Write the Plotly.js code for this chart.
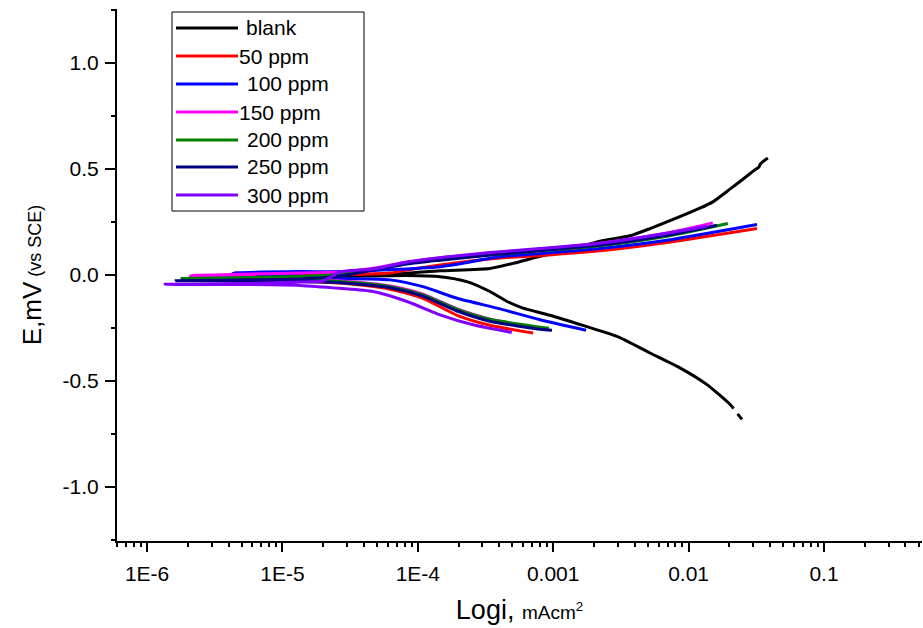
<!DOCTYPE html>
<html>
<head>
<meta charset="utf-8">
<script src="https://cdn.plot.ly/plotly-3.0.1.min.js"></script>
<style>html,body{margin:0;padding:0;background:#fff;}#chart{width:923px;height:628px;}</style>
</head>
<body>
<div id="chart"></div>
<script>
// Series names and colours
var seriesNames = ["blank", "50 ppm", "100 ppm", "150 ppm", "200 ppm", "250 ppm", "300 ppm"];
var seriesColors = ["#000000", "#ff0000", "#0000ff", "#ff00ff", "#008000", "#000080", "#8000ff"];

// blank: cathodic end -> corrosion point -> anodic end (current mA/cm2, potential V)
var blank_i = [2.48e-2, 2.30e-2, null, 2.15e-2, 2.02e-2, 1.36e-2, 8.63e-3, 5.19e-3, 2.96e-3, 1.66e-3, 9.46e-4, 5.98e-4, 4.56e-4, 3.41e-4, 2.30e-4, 1.46e-4, 8.3e-5, 3.0e-5, 1.0e-5, 2.5e-6,
               1.0e-5, 3.0e-5, 7.0e-5, 1.46e-4, 3.41e-4, 5.05e-4, 8.0e-4, 1.12e-3, 2.22e-3, 3.69e-3, 5.19e-3, 1.21e-2, 1.51e-2, 2.02e-2, 2.52e-2, 3.15e-2, 3.30e-2, 3.40e-2, 3.85e-2];
var blank_E = [-0.681, -0.655, null, -0.630, -0.610, -0.516, -0.438, -0.368, -0.290, -0.238, -0.190, -0.156, -0.125, -0.078, -0.031, -0.008, -0.002, -0.006, -0.010, -0.012,
               -0.004, 0.002, 0.006, 0.020, 0.031, 0.055, 0.088, 0.109, 0.160, 0.185, 0.219, 0.315, 0.345, 0.405, 0.452, 0.500, 0.508, 0.525, 0.552];

var ppm50_i = [7.10e-4, 3.41e-4, 1.95e-4, 1.09e-4, 6.24e-5, 2.66e-5, 1.35e-5, 5.77e-6, 2.08e-6,
               5.77e-6, 2.66e-5, 6.24e-5, 8.32e-5, 1.46e-4, 4.05e-4, 8.0e-4, 2.22e-3, 6.92e-3, 3.20e-2];
var ppm50_E = [-0.274, -0.237, -0.190, -0.110, -0.067, -0.038, -0.028, -0.021, -0.009,
               -0.007, 0.000, 0.009, 0.023, 0.047, 0.080, 0.092, 0.114, 0.153, 0.219];

var ppm100_i = [1.75e-3, 8.0e-4, 4.05e-4, 1.95e-4, 1.09e-4, 6.24e-5, 2.66e-5, 1.35e-5, 4.32e-6,
                1.35e-5, 2.66e-5, 1.46e-4, 4.05e-4, 8.0e-4, 2.22e-3, 6.92e-3, 3.20e-2];
var ppm100_E = [-0.261, -0.211, -0.160, -0.110, -0.055, -0.023, -0.016, -0.005, 0.011,
                0.016, 0.016, 0.039, 0.086, 0.101, 0.125, 0.164, 0.238];

var ppm150_i = [8.5e-4, 3.41e-4, 1.95e-4, 1.09e-4, 6.24e-5, 2.66e-5, 1.35e-5, 5.77e-6, 2.11e-6,
                5.77e-6, 2.66e-5, 4.67e-5, 8.32e-5, 1.46e-4, 4.05e-4, 2.22e-3, 6.92e-3, 1.51e-2];
var ppm150_E = [-0.254, -0.208, -0.160, -0.090, -0.052, -0.027, -0.018, -0.010, -0.003,
                0.005, 0.014, 0.032, 0.062, 0.082, 0.106, 0.150, 0.198, 0.246];

var ppm200_i = [9.3e-4, 3.41e-4, 1.95e-4, 1.09e-4, 6.24e-5, 2.66e-5, 1.35e-5, 5.77e-6, 1.81e-6,
                5.77e-6, 1.35e-5, 2.66e-5, 4.67e-5, 8.32e-5, 1.46e-4, 4.05e-4, 2.22e-3, 6.92e-3, 1.95e-2];
var ppm200_E = [-0.251, -0.209, -0.162, -0.094, -0.055, -0.031, -0.023, -0.019, -0.016,
                -0.012, -0.007, 0.002, 0.028, 0.056, 0.073, 0.099, 0.138, 0.183, 0.243];

var ppm250_i = [9.79e-4, 8.0e-4, 3.41e-4, 1.95e-4, 1.09e-4, 6.24e-5, 2.66e-5, 1.35e-5, 5.77e-6, 1.64e-6,
                5.77e-6, 1.35e-5, 2.66e-5, 4.67e-5, 8.32e-5, 1.46e-4, 4.05e-4, 2.22e-3, 6.92e-3, 1.62e-2];
var ppm250_E = [-0.261, -0.256, -0.218, -0.170, -0.100, -0.060, -0.036, -0.031, -0.029, -0.027,
                -0.023, -0.019, -0.005, 0.023, 0.052, 0.070, 0.099, 0.141, 0.188, 0.235];

var ppm300_i = [4.94e-4, 2.56e-4, 1.46e-4, 8.32e-5, 4.67e-5, 2.66e-5, 1.35e-5, 5.77e-6, 1.36e-6,
                5.77e-6, 1.35e-5, 2.0e-5, 2.66e-5, 4.67e-5, 8.32e-5, 1.46e-4, 3.41e-4, 8.0e-4, 2.22e-3, 6.92e-3, 1.37e-2];
var ppm300_E = [-0.271, -0.235, -0.188, -0.125, -0.078, -0.063, -0.049, -0.045, -0.044,
                -0.040, -0.033, -0.028, 0.014, 0.028, 0.061, 0.082, 0.106, 0.125, 0.150, 0.197, 0.230];

// Axis tick labels
var xTickVals = [1e-6, 1e-5, 1e-4, 1e-3, 1e-2, 1e-1];
var xTickText = ["1E-6", "1E-5", "1E-4", "0.001", "0.01", "0.1"];
var yTickVals = [-1.0, -0.5, 0.0, 0.5, 1.0];
var yTickText = ["-1.0", "-0.5", "0.0", "0.5", "1.0"];

var xs = [blank_i, ppm50_i, ppm100_i, ppm150_i, ppm200_i, ppm250_i, ppm300_i];
var ys = [blank_E, ppm50_E, ppm100_E, ppm150_E, ppm200_E, ppm250_E, ppm300_E];

var traces = [];
for (var k = 0; k < seriesNames.length; k++) {
  traces.push({
    type: "scatter", mode: "lines", name: seriesNames[k],
    x: xs[k], y: ys[k], connectgaps: false,
    line: {color: seriesColors[k], width: 3, shape: "spline", smoothing: 0.6},
    showlegend: false, hoverinfo: "x+y+name"
  });
}

// minor tick positions for the log axis (2..9 within each decade)
var xMinor = [];
for (var d = -7; d <= 0; d++) {
  for (var m = 2; m <= 9; m++) xMinor.push(m * Math.pow(10, d));
}

// hand-drawn legend (box, sample lines, labels) in paper coordinates
var L = 117, R = 922, T = 9, B = 541;
function px(x) { return (x - L) / (R - L); }
function py(y) { return (B - y) / (B - T); }
var rowY = [28, 56, 84, 112, 140, 167, 195];
var textX = [244, 237, 245, 237, 245, 245, 245];
var shapes = [{type: "rect", xref: "paper", yref: "paper", x0: px(172), x1: px(364), y0: py(211), y1: py(12),
               line: {color: "#000", width: 1}, fillcolor: "rgba(255,255,255,0)"}];
var annotations = [];
for (var k = 0; k < seriesNames.length; k++) {
  shapes.push({type: "line", xref: "paper", yref: "paper", x0: px(176), x1: px(238), y0: py(rowY[k]), y1: py(rowY[k]),
               line: {color: seriesColors[k], width: 3}});
  annotations.push({xref: "paper", yref: "paper", x: px(textX[k]), y: py(rowY[k]), xanchor: "left", yanchor: "middle",
                    text: seriesNames[k], showarrow: false, font: {size: 21, color: "#000"}});
}

var layout = {
  width: 923, height: 628,
  margin: {l: 117, r: 1, t: 9, b: 87},
  paper_bgcolor: "#fff", plot_bgcolor: "#fff",
  font: {family: "Liberation Sans, Arial, sans-serif", size: 20, color: "#000"},
  xaxis: {
    type: "log", range: [-6.222, -0.276],
    tickvals: xTickVals, ticktext: xTickText,
    ticks: "outside", ticklen: 9, tickwidth: 2, tickcolor: "#000",
    minor: {tickvals: xMinor, ticks: "outside", ticklen: 4, tickwidth: 2, tickcolor: "#000", showgrid: false},
    showline: true, linewidth: 2, linecolor: "#000", showgrid: false, zeroline: false,
    tickfont: {size: 21}, ticklabelstandoff: 4,
    title: {text: "Logi, <span style='font-size:19px'>mAcm<sup>2</sup></span>", font: {size: 27}, standoff: 16}
  },
  yaxis: {
    range: [-1.255, 1.255],
    tickvals: yTickVals, ticktext: yTickText,
    ticks: "outside", ticklen: 10, tickwidth: 2, tickcolor: "#000",
    minor: {dtick: 0.25, tick0: 0, ticks: "outside", ticklen: 4, tickwidth: 2, tickcolor: "#000", showgrid: false},
    showline: true, linewidth: 2, linecolor: "#000", showgrid: false, zeroline: false,
    tickfont: {size: 21}, ticklabelstandoff: 2,
    title: {text: "E,mV<span style='font-size:18px'> (vs SCE)</span>", font: {size: 26}, standoff: 14}
  },
  shapes: shapes,
  annotations: annotations,
  showlegend: false
};

Plotly.newPlot("chart", traces, layout, {staticPlot: true, displayModeBar: false});
</script>
</body>
</html>
